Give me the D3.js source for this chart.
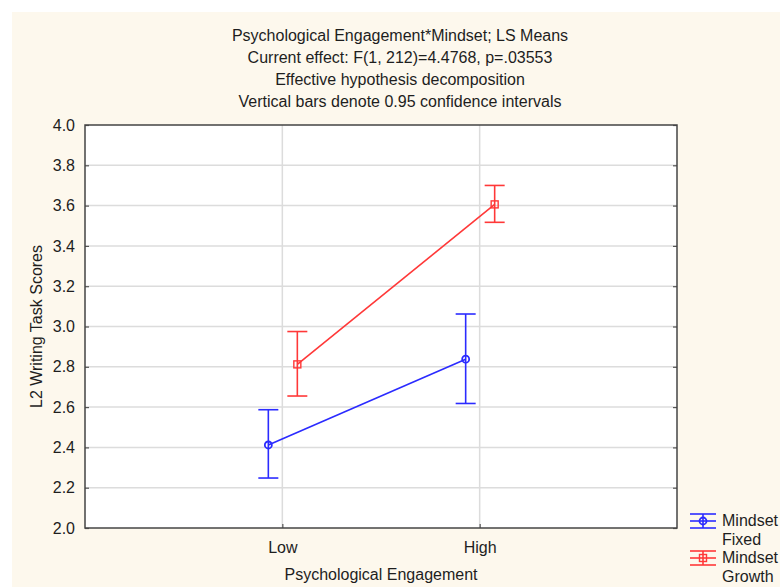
<!DOCTYPE html>
<html>
<head>
<meta charset="utf-8">
<script src="https://cdn.jsdelivr.net/npm/d3@7"></script>
<style>
  body { margin: 0; background: #fff; }
  svg text { font-family: "Liberation Sans", Arial, sans-serif; fill: #1e1e1e; }
</style>
</head>
<body>
<div class="chart-main"></div>
<script>
//////////
// DATA //
//////////

var categories = ['Low', 'High'];
var seriesNames = ['Mindset Fixed', 'Mindset Growth'];
var fixedMeans = [2.412, 2.838];
var fixedLower = [2.248, 2.618];
var fixedUpper = [2.587, 3.062];
var growthMeans = [2.812, 3.606];
var growthLower = [2.655, 3.517];
var growthUpper = [2.975, 3.700];
var yTicks = [2.0, 2.2, 2.4, 2.6, 2.8, 3.0, 3.2, 3.4, 3.6, 3.8, 4.0];
var titleLines = [
    'Psychological Engagement*Mindset; LS Means',
    'Current effect: F(1, 212)=4.4768, p=.03553',
    'Effective hypothesis decomposition',
    'Vertical bars denote 0.95 confidence intervals'
];

var series = [
    { name: seriesNames[0], color: '#2b2bff', shape: 'circle', offset: -14,
      means: fixedMeans, lower: fixedLower, upper: fixedUpper },
    { name: seriesNames[1], color: '#ff3838', shape: 'square', offset: 15,
      means: growthMeans, lower: growthLower, upper: growthUpper }
];

//////////////////
// CREATING SVG //
//////////////////

var w = 780, h = 587;
var margin = { left: 85, top: 125, right: 103, bottom: 59 };

var svg = d3.select('.chart-main')
    .append('svg')
    .attr('width', w)
    .attr('height', h);

// cream page background
svg.append('rect')
    .attr('x', 12).attr('y', 12)
    .attr('width', w - 12).attr('height', h - 12)
    .attr('fill', '#fdf8ed');

////////////
// SCALES //
////////////

var xScale = d3.scalePoint()
    .domain(categories)
    .range([margin.left, w - margin.right])
    .padding(1);

var yScale = d3.scaleLinear()
    .domain([2.0, 4.0])
    .range([h - margin.bottom, margin.top]);

var x0 = margin.left, x1 = w - margin.right,
    y0 = h - margin.bottom, y1 = margin.top;

svg.append('rect')
    .attr('x', x0).attr('y', y1)
    .attr('width', x1 - x0).attr('height', y0 - y1)
    .attr('fill', '#fff');

//////////
// GRID //
//////////

svg.append('g')
    .selectAll('line')
    .data(yTicks.slice(1, -1))
    .enter()
    .append('line')
    .attr('x1', x0).attr('x2', x1)
    .attr('y1', function(d) { return yScale(d); })
    .attr('y2', function(d) { return yScale(d); })
    .attr('stroke', '#dcdcdc')
    .attr('stroke-width', 1.5);

svg.append('g')
    .selectAll('line')
    .data(categories)
    .enter()
    .append('line')
    .attr('x1', function(d) { return xScale(d); })
    .attr('x2', function(d) { return xScale(d); })
    .attr('y1', y1).attr('y2', y0)
    .attr('stroke', '#dcdcdc')
    .attr('stroke-width', 1.5);

//////////
// AXIS //
//////////

var yAxis = d3.axisLeft(yScale)
    .tickValues(yTicks)
    .tickSize(-4)
    .tickPadding(10)
    .tickFormat(d3.format('.1f'));

var yAxisR = d3.axisRight(yScale)
    .tickValues(yTicks)
    .tickSize(-4)
    .tickFormat('');

var xAxis = d3.axisBottom(xScale)
    .tickSize(-4)
    .tickPadding(14);

svg.append('g')
    .attr('class', 'axis')
    .attr('transform', 'translate(' + x0 + ',0)')
    .call(yAxis);

svg.append('g')
    .attr('class', 'axis')
    .attr('transform', 'translate(' + x1 + ',0)')
    .call(yAxisR);

svg.append('g')
    .attr('class', 'axis')
    .attr('transform', 'translate(0,' + y0 + ')')
    .call(xAxis);

svg.selectAll('.axis .domain').remove();
svg.selectAll('.axis line').attr('stroke', '#555').attr('stroke-width', 1.2);
svg.selectAll('.axis text')
    .attr('font-size', 16)
    .attr('fill', '#1e1e1e');

// frame
svg.append('rect')
    .attr('x', x0).attr('y', y1)
    .attr('width', x1 - x0).attr('height', y0 - y1)
    .attr('fill', 'none')
    .attr('stroke', '#444')
    .attr('stroke-width', 1.5);

////////////
// TITLES //
////////////

svg.append('g')
    .selectAll('text')
    .data(titleLines)
    .enter()
    .append('text')
    .attr('x', 400)
    .attr('y', function(d, i) { return 41 + i * 22; })
    .attr('text-anchor', 'middle')
    .attr('font-size', 16)
    .text(function(d) { return d; });

svg.append('text')
    .attr('x', (x0 + x1) / 2)
    .attr('y', 580)
    .attr('text-anchor', 'middle')
    .attr('font-size', 16)
    .text('Psychological Engagement');

svg.append('text')
    .attr('transform', 'translate(42,' + ((y0 + y1) / 2) + ') rotate(-90)')
    .attr('text-anchor', 'middle')
    .attr('font-size', 16)
    .text('L2 Writing Task Scores');

/////////////////////////
// LINES & ERROR BARS  //
/////////////////////////

var line = d3.line();

series.forEach(function(s) {
    var g = svg.append('g');
    var pts = categories.map(function(c, i) {
        return [xScale(c) + s.offset, yScale(s.means[i])];
    });

    g.append('path')
        .attr('d', line(pts))
        .attr('fill', 'none')
        .attr('stroke', s.color)
        .attr('stroke-width', 1.6);

    categories.forEach(function(c, i) {
        var cx = xScale(c) + s.offset;
        g.append('line')
            .attr('x1', cx).attr('x2', cx)
            .attr('y1', yScale(s.lower[i])).attr('y2', yScale(s.upper[i]))
            .attr('stroke', s.color).attr('stroke-width', 1.6);
        [s.lower[i], s.upper[i]].forEach(function(v) {
            g.append('line')
                .attr('x1', cx - 10).attr('x2', cx + 10)
                .attr('y1', yScale(v)).attr('y2', yScale(v))
                .attr('stroke', s.color).attr('stroke-width', 1.6);
        });
        drawMarker(g, s, cx, yScale(s.means[i]));
    });
});

function drawMarker(g, s, cx, cy) {
    if (s.shape === 'circle') {
        g.append('circle')
            .attr('cx', cx).attr('cy', cy).attr('r', 3.5)
            .attr('fill', 'none').attr('stroke', s.color).attr('stroke-width', 1.8);
    } else {
        g.append('rect')
            .attr('x', cx - 3.5).attr('y', cy - 3.5)
            .attr('width', 7).attr('height', 7)
            .attr('fill', 'none').attr('stroke', s.color).attr('stroke-width', 1.4);
    }
}

////////////
// LEGEND //
////////////

var legend = svg.append('g');

series.forEach(function(s, i) {
    var ly = 521 + i * 37;
    var lx0 = 690, lx1 = 716, lc = (lx0 + lx1) / 2;
    [-7, 0, 7].forEach(function(dy) {
        legend.append('line')
            .attr('x1', lx0).attr('x2', lx1)
            .attr('y1', ly + dy).attr('y2', ly + dy)
            .attr('stroke', s.color).attr('stroke-width', 1.6);
    });
    legend.append('line')
        .attr('x1', lc).attr('x2', lc)
        .attr('y1', ly - 7).attr('y2', ly + 7)
        .attr('stroke', s.color).attr('stroke-width', 1.6);
    drawMarker(legend, s, lc, ly);

    var parts = s.name.split(' ');
    legend.append('text')
        .attr('x', 722).attr('y', ly + 5)
        .attr('font-size', 16)
        .text(parts[0]);
    legend.append('text')
        .attr('x', 722).attr('y', ly + 24)
        .attr('font-size', 16)
        .text(parts[1]);
});
</script>
</body>
</html>
